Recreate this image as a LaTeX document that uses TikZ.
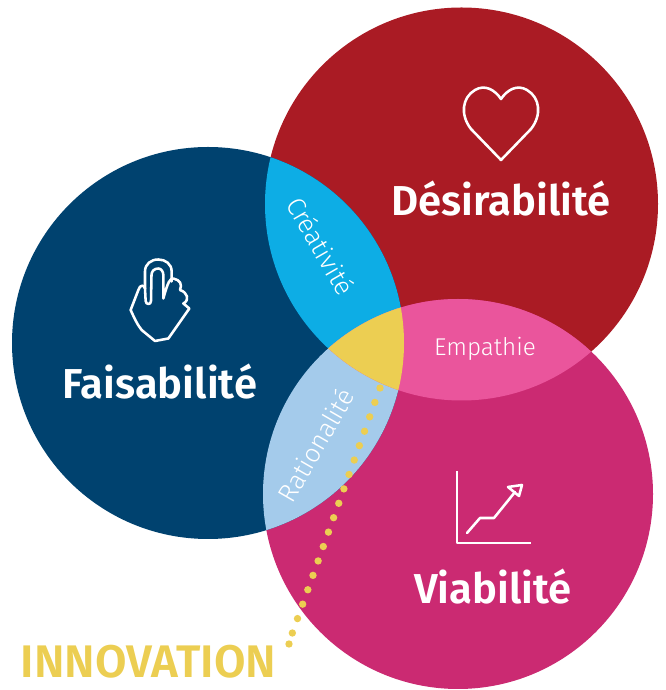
\documentclass[tikz,border=0pt]{standalone}
\usepackage{fontspec}
\setmainfont{Fira Sans}
\newfontfamily\lightfont{Fira Sans Light}
\newfontfamily\mediumfont{Fira Sans SemiBold}
\usetikzlibrary{positioning}

\definecolor{faisa}{HTML}{00426F}
\definecolor{desir}{HTML}{AA1B24}
\definecolor{viab}{HTML}{CB2A72}
\definecolor{creat}{HTML}{0DADE5}
\definecolor{ratio}{HTML}{A4CBEB}
\definecolor{empat}{HTML}{EA559C}
\definecolor{innov}{HTML}{ECCE52}

\begin{document}
\begin{tikzpicture}
	\tikzstyle{Title} = [text=white, font=\fontsize{23.8}{26}\mediumfont]
	\tikzstyle{Lens} = [text=white, font=\fontsize{13.8}{16}\lightfont]
	\tikzstyle{Tilted} = [text=white, font=\fontsize{14.8}{17}\lightfont]
	\tikzstyle{Icon} = [white, line width=1.45pt, line join=round, line cap=round]
	\tikzstyle{Dots} = [innov, line width=4.2pt, line cap=round, dash pattern=on 0pt off 8.71pt]

	\useasboundingbox (0, 0) rectangle (13.32, 13.8);

	% the three circles
	\fill [desir] (9.23, 9.72) circle (3.93);
	\fill [viab] (9.16, 3.92) circle (3.9);
	\fill [faisa] (4.16, 6.94) circle (3.92);

	% the overlaps
	\begin{scope}
		\clip (4.16, 6.94) circle (3.92);
		\fill [creat] (9.23, 9.72) circle (3.93);
		\fill [ratio] (9.16, 3.92) circle (3.9);
	\end{scope}
	\begin{scope}
		\clip (9.23, 9.72) circle (3.93);
		\fill [empat] (9.16, 3.92) circle (3.9);
		\clip (4.16, 6.94) circle (3.92);
		\fill [innov] (9.16, 3.92) circle (3.9);
	\end{scope}

	% heart
	\draw [Icon] (10.02, 10.6) -- (9.42, 11.22) .. controls (9.2, 11.5) and (9.24, 11.85) .. (9.5, 12.0)
		.. controls (9.7, 12.12) and (9.9, 12.0) .. (10.02, 11.82)
		.. controls (10.14, 12.0) and (10.34, 12.12) .. (10.54, 12.0)
		.. controls (10.8, 11.85) and (10.84, 11.5) .. (10.62, 11.22) -- cycle;

	% hand
	\draw [Icon] (2.9, 8.03) -- (2.9, 8.37) .. controls (2.9, 8.52) and (3.02, 8.61) .. (3.167, 8.61)
		.. controls (3.31, 8.61) and (3.433, 8.52) .. (3.433, 8.37) -- (3.433, 8.17);
	\draw [Icon] (3.267, 7.83) -- (3.267, 8.3) .. controls (3.267, 8.37) and (3.22, 8.43) .. (3.167, 8.43)
		.. controls (3.08, 8.43) and (3.03, 8.37) .. (3.03, 8.3) -- (3.02, 7.78)
		.. controls (3.02, 7.7) and (2.92, 7.7) .. (2.913, 7.78) -- (2.9, 8.03)
		.. controls (2.89, 8.1) and (2.8, 8.12) .. (2.767, 8.0) -- (2.613, 7.6)
		.. controls (2.68, 7.45) and (2.75, 7.3) .. (2.833, 7.2) -- (3.1, 6.98)
		-- (3.367, 7.03) -- (3.787, 7.63) -- (3.667, 7.73) .. controls (3.8, 7.8) and (3.75, 7.95) .. (3.6, 8.0)
		.. controls (3.65, 8.12) and (3.6, 8.2) .. (3.467, 8.23) .. controls (3.4, 8.23) and (3.36, 8.17) .. (3.267, 7.83);

	% chart
	\draw [Icon, line cap=butt] (9.14, 4.38) -- (9.14, 2.94) -- (10.62, 2.94);
	\draw [Icon] (9.34, 3.14) -- (9.6, 3.44) -- (9.88, 3.44) -- (10.3, 3.96);
	\draw [Icon] (10.16, 4.06) -- (10.44, 4.1) -- (10.38, 3.88) -- cycle;

	% labels
	\node (desirabilite) [Title] at (10.02, 9.82) {Désirabilité};
	\node (faisabilite) [Title] at (3.2, 6.16) {Faisabilité};
	\node (viabilite) [Title] at (9.86, 2.06) {Viabilité};
	\node (empathie) [Lens] at (9.7, 6.82) {Empathie};
	\node (creativite) [Tilted, rotate=-60] at (6.42, 8.88) {Créativité};
	\node (rationalite) [Tilted, rotate=60] at (6.31, 4.9) {Rationalité};
	\node (innovation) [text=innov, font=\fontsize{26}{29}\mediumfont] at (2.97, 0.56) {INNOVATION};

	% dotted leader
	\coordinate (dotstart) at (7.6, 6.04);
	\coordinate (dotbend) at (5.84, 1.12);
	\coordinate (dotend) at (5.78, 0.92);
	\draw [Dots] (dotstart) -- (dotbend);
	\draw [Dots] (dotend) -- ++(0, 0.001);
\end{tikzpicture}
\end{document}
